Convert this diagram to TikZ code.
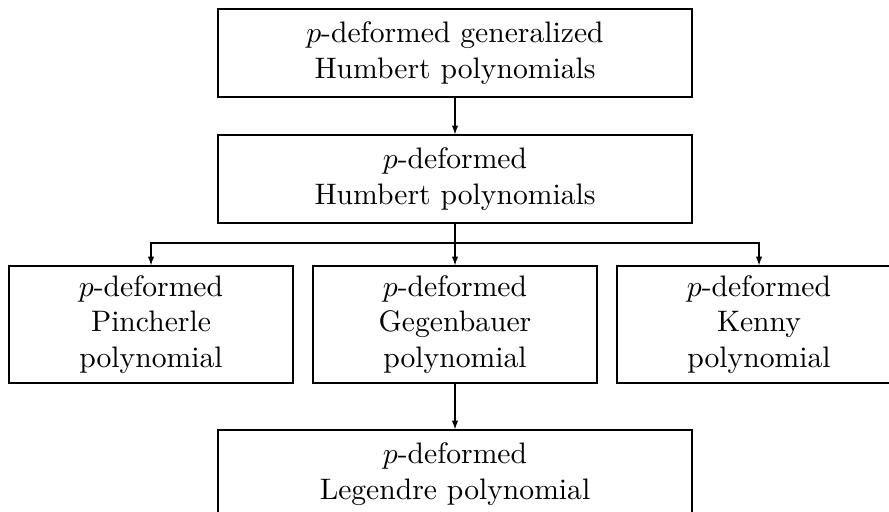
\documentclass[tikz,border=0pt]{standalone}
\usetikzlibrary{arrows.meta}
\begin{document}
\begin{tikzpicture}[x=0.3375pt,y=-0.3375pt,
  widebox/.style={draw,align=center,minimum width=160pt,minimum height=29.7pt,inner sep=0pt},
  rowbox/.style={draw,align=center,minimum width=95.85pt,minimum height=39.5pt,inner sep=0pt},
  conn/.style={-{Latex[length=3pt,width=2.2pt]}}]
\useasboundingbox (0,0) rectangle (889,512);
\node[widebox] (gen) at (455,53) {$p$-deformed generalized\\Humbert polynomials};
\node[widebox] (hum) at (455,179) {$p$-deformed\\Humbert polynomials};
\node[rowbox] (pin) at (151,324.5) {$p$-deformed\\Pincherle\\polynomial};
\node[rowbox] (geg) at (455,324.5) {$p$-deformed\\Gegenbauer\\polynomial};
\node[rowbox] (ken) at (759,324.5) {$p$-deformed\\Kenny\\polynomial};
\node[widebox] (leg) at (455,474) {$p$-deformed\\Legendre polynomial};
\coordinate (br) at (455,243);
\draw[conn] (gen.south) -- (hum.north);
\draw (hum.south) -- (br);
\draw[conn] (br) -| (pin.north);
\draw[conn] (br) -- (geg.north);
\draw[conn] (br) -| (ken.north);
\draw[conn] (geg.south) -- (leg.north);
\end{tikzpicture}
\end{document}
